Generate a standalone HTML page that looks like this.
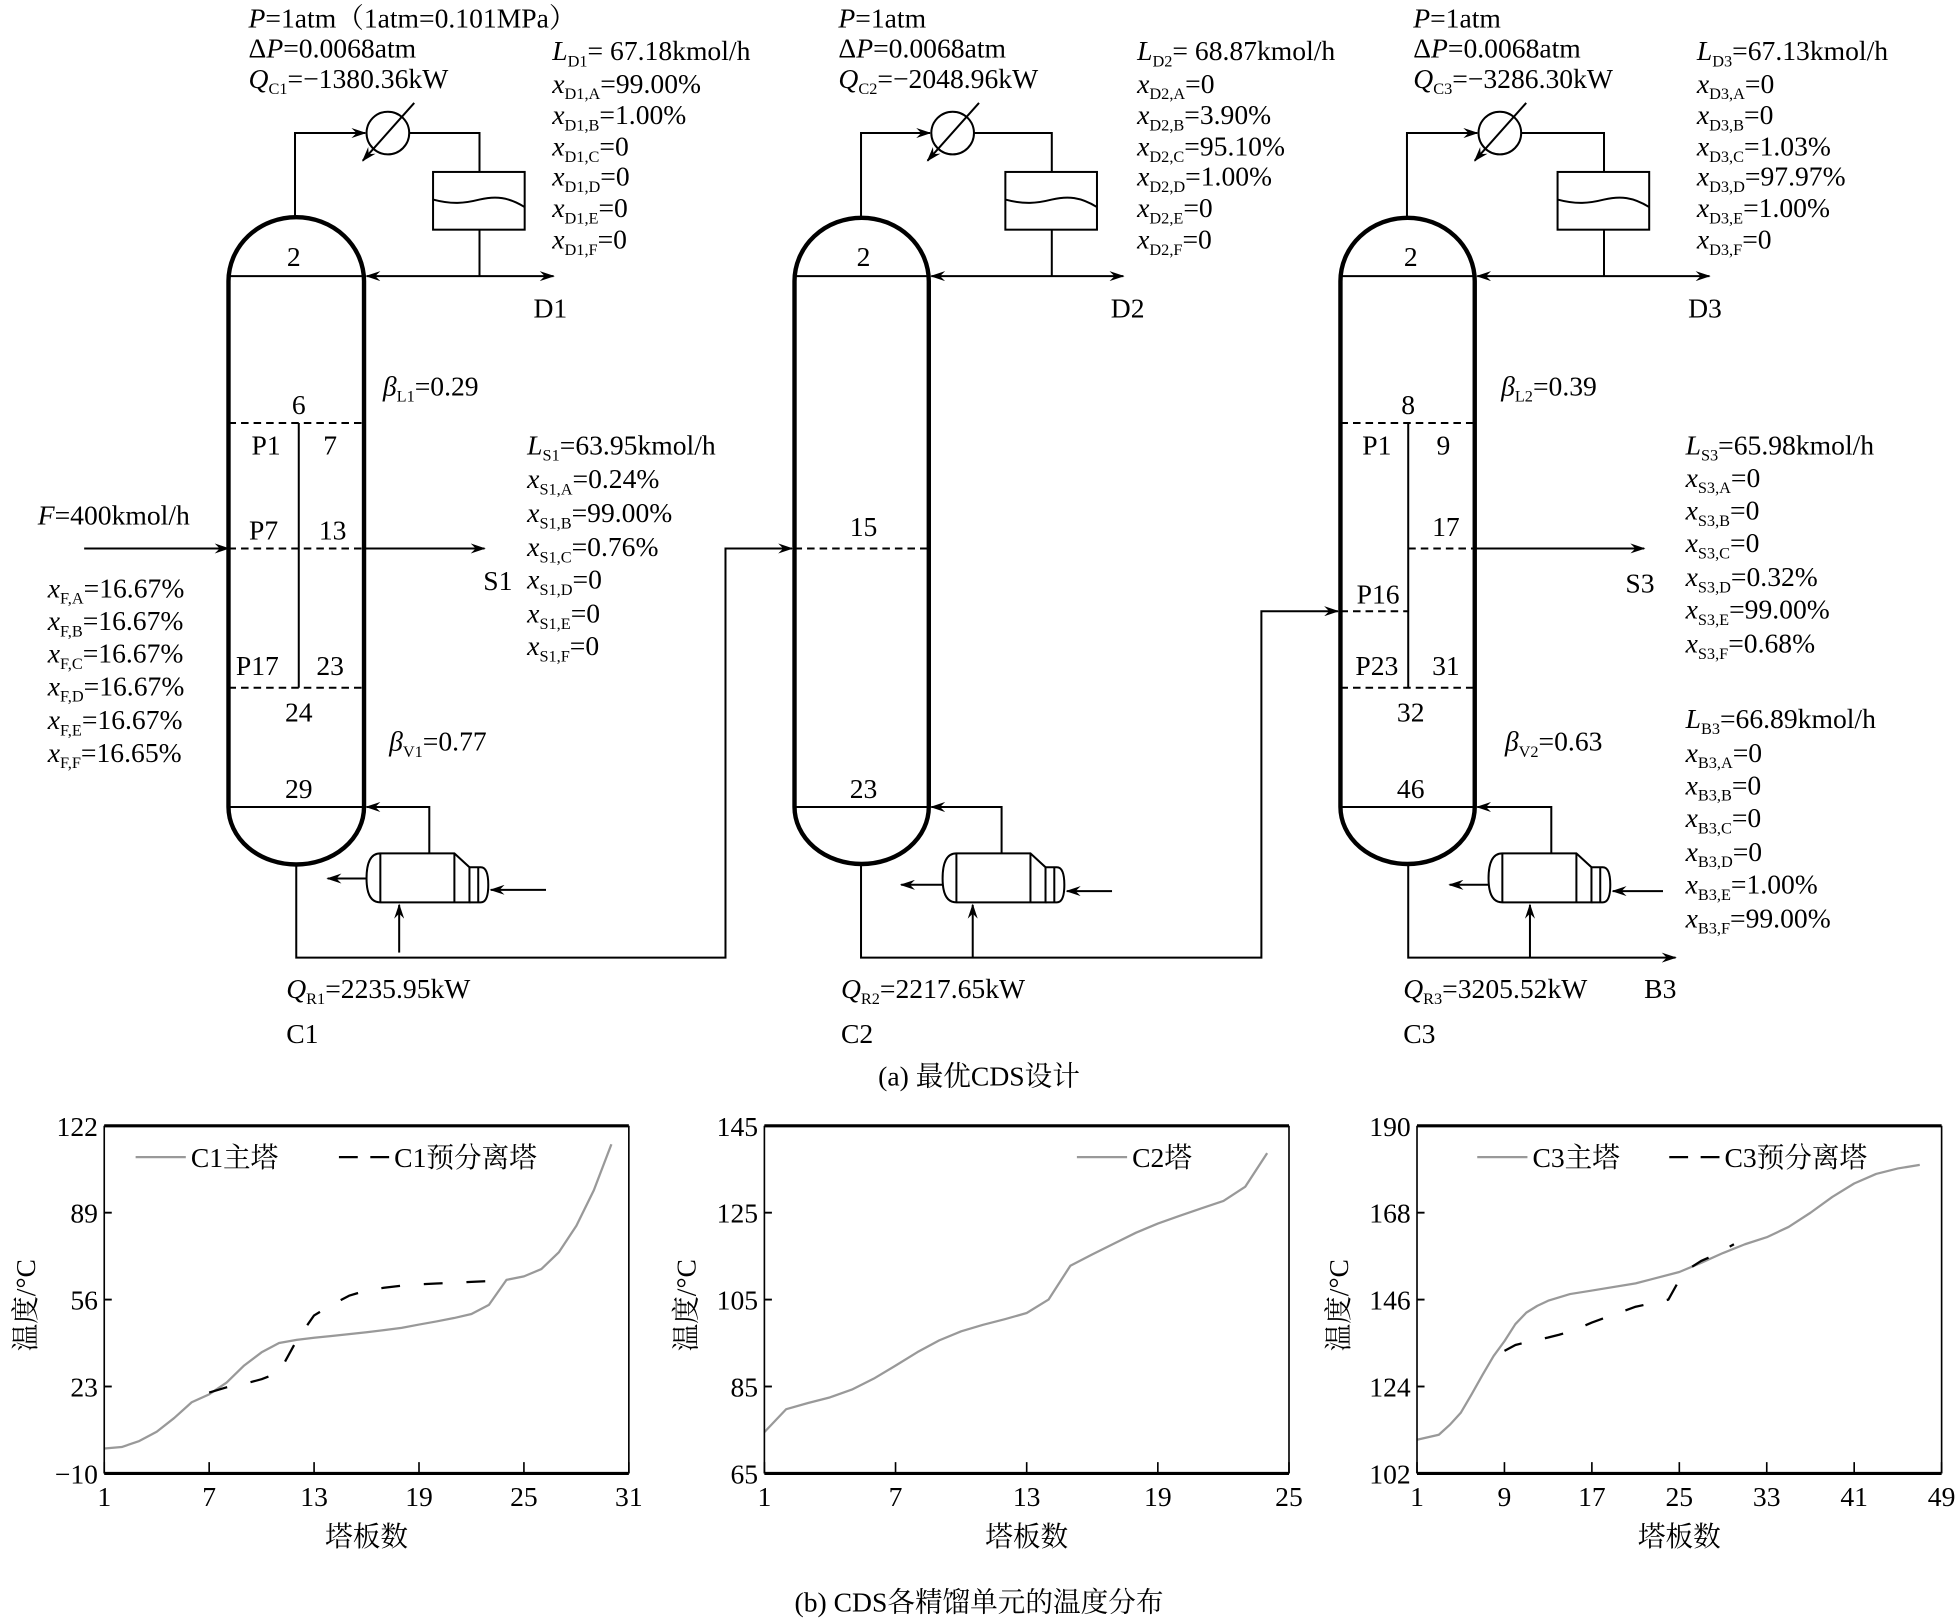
<!DOCTYPE html>
<html><head><meta charset="utf-8"><style>
html,body{margin:0;padding:0;background:#fff}
svg{display:block}
text{font-family:"Liberation Serif","Noto Serif CJK SC","Noto Sans CJK SC",serif;font-size:22px;fill:#000}
.s{font-size:13px}
.i{font-style:italic}
.ln{stroke:#000;stroke-width:1.6;fill:none}
.col{stroke:#000;stroke-width:3.5;fill:none}
.dash{stroke:#000;stroke-width:1.6;stroke-dasharray:6 4;fill:none}
</style></head><body>
<svg id="root" width="1958" height="1619" viewBox="0 0 1560 1290" xmlns="http://www.w3.org/2000/svg">
<defs>
<marker id="ah" viewBox="0 0 12 8" refX="11" refY="4" markerWidth="12" markerHeight="8" markerUnits="userSpaceOnUse" orient="auto-start-reverse"><path d="M0,0 L12,4 L0,8 L4,4 Z" fill="#000"/></marker>
</defs>
<rect width="1560" height="1290" fill="#fff"/>

<g id="c1">
<path class="col" d="M182,643 L182,224 A53,50 0 0 1 290,224 L290,643 A53,45 0 0 1 182,643 Z"/>
<line class="ln" x1="182" y1="220" x2="290" y2="220"/>
<line class="ln" x1="182" y1="643" x2="290" y2="643"/>
<path class="ln" d="M235,174 L235,106 L291,106" marker-end="url(#ah)"/>
<circle class="ln" cx="309" cy="106" r="17"/>
<line class="ln" x1="330" y1="82" x2="289" y2="128" marker-end="url(#ah)"/>
<path class="ln" d="M326,106 L382,106 L382,137"/>
<rect class="ln" x="345" y="137" width="73" height="46"/>
<path class="ln" d="M345,159 C360,163 370,162 382,159 C395,156 405,157 418,165"/>
<line class="ln" x1="382" y1="183" x2="382" y2="220"/>
<line class="ln" x1="292" y1="220" x2="441" y2="220" marker-start="url(#ah)" marker-end="url(#ah)"/>
<g>
<path class="ln" d="M303,680 L362,680 L374,691 L374,719 L303,719 Q292,719 292,700 Q292,680 303,680 Z"/>
<line class="ln" x1="303" y1="680" x2="303" y2="719"/><line class="ln" x1="362" y1="680" x2="362" y2="719"/>
<path class="ln" d="M374,691 L383,691 Q389,691 389,705 Q389,719 383,719 L374,719"/>
<line class="ln" x1="381" y1="691" x2="381" y2="719"/>
<path class="ln" d="M342,680 L342,643 L292,643" marker-end="url(#ah)"/>
<line class="ln" x1="292" y1="700" x2="261" y2="700" marker-end="url(#ah)"/>
<line class="ln" x1="435" y1="709" x2="391" y2="709" marker-end="url(#ah)"/>
<line class="ln" x1="318" y1="759" x2="318" y2="721" marker-end="url(#ah)"/>
</g>
<path class="dash" d="M182,337 L290,337 M182,437 L290,437 M182,548 L290,548"/>
<line class="ln" x1="238" y1="337" x2="238" y2="548"/>
<line class="ln" x1="67" y1="437" x2="182" y2="437" marker-end="url(#ah)"/>
<line class="ln" x1="290" y1="437" x2="386" y2="437" marker-end="url(#ah)"/>
<path class="ln" d="M236,690 L236,763 L578,763 L578,437 L631,437" marker-end="url(#ah)"/>
<g text-anchor="middle">
<text x="234" y="212">2</text><text x="238" y="330">6</text><text x="212" y="362">P1</text><text x="263" y="362">7</text>
<text x="210" y="430">P7</text><text x="265" y="430">13</text><text x="205" y="538">P17</text><text x="263" y="538">23</text>
<text x="238" y="575">24</text><text x="238" y="636">29</text>
</g>
</g>

<g id="c2">
<path class="col" d="M633,643 L633,224 A53,50 0 0 1 740,224 L740,643 A53,45 0 0 1 633,643 Z"/>
<line class="ln" x1="633" y1="220" x2="740" y2="220"/>
<line class="ln" x1="633" y1="643" x2="740" y2="643"/>
<path class="ln" d="M686,174 L686,106 L741,106" marker-end="url(#ah)"/>
<circle class="ln" cx="759" cy="106" r="17"/>
<line class="ln" x1="780" y1="82" x2="739" y2="128" marker-end="url(#ah)"/>
<path class="ln" d="M776,106 L838,106 L838,137"/>
<rect class="ln" x="801" y="137" width="73" height="46"/>
<path class="ln" d="M801,159 C816,163 826,162 838,159 C851,156 861,157 874,165"/>
<line class="ln" x1="838" y1="183" x2="838" y2="220"/>
<line class="ln" x1="742" y1="220" x2="895" y2="220" marker-start="url(#ah)" marker-end="url(#ah)"/>
<g>
<path class="ln" d="M762,680 L821,680 L833,691 L833,719 L762,719 Q751,719 751,700 Q751,680 762,680 Z"/>
<line class="ln" x1="762" y1="680" x2="762" y2="719"/><line class="ln" x1="821" y1="680" x2="821" y2="719"/>
<path class="ln" d="M833,691 L842,691 Q848,691 848,705 Q848,719 842,719 L833,719"/>
<line class="ln" x1="840" y1="691" x2="840" y2="719"/>
<path class="ln" d="M798,680 L798,643 L742,643" marker-end="url(#ah)"/>
<line class="ln" x1="751" y1="705" x2="718" y2="705" marker-end="url(#ah)"/>
<line class="ln" x1="886" y1="710" x2="850" y2="710" marker-end="url(#ah)"/>
<line class="ln" x1="775" y1="763" x2="775" y2="721" marker-end="url(#ah)"/>
</g>
<line class="dash" x1="633" y1="437" x2="740" y2="437"/>
<path class="ln" d="M686,690 L686,763 L1005,763 L1005,487 L1066,487" marker-end="url(#ah)"/>
<g text-anchor="middle"><text x="688" y="212">2</text><text x="688" y="427">15</text><text x="688" y="636">23</text></g>
</g>

<g id="c3">
<path class="col" d="M1068,643 L1068,224 A53,50 0 0 1 1175,224 L1175,643 A53,45 0 0 1 1068,643 Z"/>
<line class="ln" x1="1068" y1="220" x2="1175" y2="220"/>
<line class="ln" x1="1068" y1="643" x2="1175" y2="643"/>
<path class="ln" d="M1121,174 L1121,106 L1177,106" marker-end="url(#ah)"/>
<circle class="ln" cx="1195" cy="106" r="17"/>
<line class="ln" x1="1216" y1="82" x2="1175" y2="128" marker-end="url(#ah)"/>
<path class="ln" d="M1212,106 L1278,106 L1278,137"/>
<rect class="ln" x="1241" y="137" width="73" height="46"/>
<path class="ln" d="M1241,159 C1256,163 1266,162 1278,159 C1291,156 1301,157 1314,165"/>
<line class="ln" x1="1278" y1="183" x2="1278" y2="220"/>
<line class="ln" x1="1177" y1="220" x2="1362" y2="220" marker-start="url(#ah)" marker-end="url(#ah)"/>
<g>
<path class="ln" d="M1197,680 L1256,680 L1268,691 L1268,719 L1197,719 Q1186,719 1186,700 Q1186,680 1197,680 Z"/>
<line class="ln" x1="1197" y1="680" x2="1197" y2="719"/><line class="ln" x1="1256" y1="680" x2="1256" y2="719"/>
<path class="ln" d="M1268,691 L1277,691 Q1283,691 1283,705 Q1283,719 1277,719 L1268,719"/>
<line class="ln" x1="1275" y1="691" x2="1275" y2="719"/>
<path class="ln" d="M1236,680 L1236,643 L1177,643" marker-end="url(#ah)"/>
<line class="ln" x1="1186" y1="705" x2="1155" y2="705" marker-end="url(#ah)"/>
<line class="ln" x1="1325" y1="710" x2="1285" y2="710" marker-end="url(#ah)"/>
<line class="ln" x1="1219" y1="763" x2="1219" y2="721" marker-end="url(#ah)"/>
</g>
<path class="dash" d="M1068,337 L1175,337 M1122,437 L1175,437 M1068,487 L1122,487 M1068,548 L1175,548"/>
<line class="ln" x1="1122" y1="337" x2="1122" y2="548"/>
<line class="ln" x1="1175" y1="437" x2="1310" y2="437" marker-end="url(#ah)"/>
<path class="ln" d="M1122,690 L1122,763 L1335,763" marker-end="url(#ah)"/>
<g text-anchor="middle">
<text x="1124" y="212">2</text><text x="1122" y="330">8</text><text x="1097" y="362">P1</text><text x="1150" y="362">9</text>
<text x="1152" y="427">17</text><text x="1098" y="481">P16</text><text x="1097" y="538">P23</text><text x="1152" y="538">31</text>
<text x="1124" y="575">32</text><text x="1124" y="636">46</text>
</g>
</g>

<g>
<text x="198" y="22"><tspan class="i">P</tspan>=1atm（1atm=0.101MPa）</text>
<text x="198" y="46">Δ<tspan class="i">P</tspan>=0.0068atm</text>
<text x="198" y="70"><tspan class="i">Q</tspan><tspan class="s" dy="5">C1</tspan><tspan dy="-5">=−1380.36kW</tspan></text>
<text x="440" y="48"><tspan class="i">L</tspan><tspan class="s" dy="5">D1</tspan><tspan dy="-5">= 67.18kmol/h</tspan></text>
<text x="440" y="74"><tspan class="i">x</tspan><tspan class="s" dy="5">D1,A</tspan><tspan dy="-5">=99.00%</tspan></text>
<text x="440" y="99"><tspan class="i">x</tspan><tspan class="s" dy="5">D1,B</tspan><tspan dy="-5">=1.00%</tspan></text>
<text x="440" y="124"><tspan class="i">x</tspan><tspan class="s" dy="5">D1,C</tspan><tspan dy="-5">=0</tspan></text>
<text x="440" y="148"><tspan class="i">x</tspan><tspan class="s" dy="5">D1,D</tspan><tspan dy="-5">=0</tspan></text>
<text x="440" y="173"><tspan class="i">x</tspan><tspan class="s" dy="5">D1,E</tspan><tspan dy="-5">=0</tspan></text>
<text x="440" y="198"><tspan class="i">x</tspan><tspan class="s" dy="5">D1,F</tspan><tspan dy="-5">=0</tspan></text>
<text x="425" y="253">D1</text>
<text x="305" y="315"><tspan class="i">β</tspan><tspan class="s" dy="5">L1</tspan><tspan dy="-5">=0.29</tspan></text>
<text x="310" y="598"><tspan class="i">β</tspan><tspan class="s" dy="5">V1</tspan><tspan dy="-5">=0.77</tspan></text>
<text x="30" y="418"><tspan class="i">F</tspan>=400kmol/h</text>
<text x="38" y="476"><tspan class="i">x</tspan><tspan class="s" dy="5">F,A</tspan><tspan dy="-5">=16.67%</tspan></text>
<text x="38" y="502"><tspan class="i">x</tspan><tspan class="s" dy="5">F,B</tspan><tspan dy="-5">=16.67%</tspan></text>
<text x="38" y="528"><tspan class="i">x</tspan><tspan class="s" dy="5">F,C</tspan><tspan dy="-5">=16.67%</tspan></text>
<text x="38" y="554"><tspan class="i">x</tspan><tspan class="s" dy="5">F,D</tspan><tspan dy="-5">=16.67%</tspan></text>
<text x="38" y="581"><tspan class="i">x</tspan><tspan class="s" dy="5">F,E</tspan><tspan dy="-5">=16.67%</tspan></text>
<text x="38" y="607"><tspan class="i">x</tspan><tspan class="s" dy="5">F,F</tspan><tspan dy="-5">=16.65%</tspan></text>
<text x="385" y="470">S1</text>
<text x="420" y="362"><tspan class="i">L</tspan><tspan class="s" dy="5">S1</tspan><tspan dy="-5">=63.95kmol/h</tspan></text>
<text x="420" y="389"><tspan class="i">x</tspan><tspan class="s" dy="5">S1,A</tspan><tspan dy="-5">=0.24%</tspan></text>
<text x="420" y="416"><tspan class="i">x</tspan><tspan class="s" dy="5">S1,B</tspan><tspan dy="-5">=99.00%</tspan></text>
<text x="420" y="443"><tspan class="i">x</tspan><tspan class="s" dy="5">S1,C</tspan><tspan dy="-5">=0.76%</tspan></text>
<text x="420" y="469"><tspan class="i">x</tspan><tspan class="s" dy="5">S1,D</tspan><tspan dy="-5">=0</tspan></text>
<text x="420" y="496"><tspan class="i">x</tspan><tspan class="s" dy="5">S1,E</tspan><tspan dy="-5">=0</tspan></text>
<text x="420" y="522"><tspan class="i">x</tspan><tspan class="s" dy="5">S1,F</tspan><tspan dy="-5">=0</tspan></text>
<text x="228" y="795"><tspan class="i">Q</tspan><tspan class="s" dy="5">R1</tspan><tspan dy="-5">=2235.95kW</tspan></text>
<text x="228" y="831">C1</text>

<text x="668" y="22"><tspan class="i">P</tspan>=1atm</text>
<text x="668" y="46">Δ<tspan class="i">P</tspan>=0.0068atm</text>
<text x="668" y="70"><tspan class="i">Q</tspan><tspan class="s" dy="5">C2</tspan><tspan dy="-5">=−2048.96kW</tspan></text>
<text x="906" y="48"><tspan class="i">L</tspan><tspan class="s" dy="5">D2</tspan><tspan dy="-5">= 68.87kmol/h</tspan></text>
<text x="906" y="74"><tspan class="i">x</tspan><tspan class="s" dy="5">D2,A</tspan><tspan dy="-5">=0</tspan></text>
<text x="906" y="99"><tspan class="i">x</tspan><tspan class="s" dy="5">D2,B</tspan><tspan dy="-5">=3.90%</tspan></text>
<text x="906" y="124"><tspan class="i">x</tspan><tspan class="s" dy="5">D2,C</tspan><tspan dy="-5">=95.10%</tspan></text>
<text x="906" y="148"><tspan class="i">x</tspan><tspan class="s" dy="5">D2,D</tspan><tspan dy="-5">=1.00%</tspan></text>
<text x="906" y="173"><tspan class="i">x</tspan><tspan class="s" dy="5">D2,E</tspan><tspan dy="-5">=0</tspan></text>
<text x="906" y="198"><tspan class="i">x</tspan><tspan class="s" dy="5">D2,F</tspan><tspan dy="-5">=0</tspan></text>
<text x="885" y="253">D2</text>
<text x="670" y="795"><tspan class="i">Q</tspan><tspan class="s" dy="5">R2</tspan><tspan dy="-5">=2217.65kW</tspan></text>
<text x="670" y="831">C2</text>

<text x="1126" y="22"><tspan class="i">P</tspan>=1atm</text>
<text x="1126" y="46">Δ<tspan class="i">P</tspan>=0.0068atm</text>
<text x="1126" y="70"><tspan class="i">Q</tspan><tspan class="s" dy="5">C3</tspan><tspan dy="-5">=−3286.30kW</tspan></text>
<text x="1352" y="48"><tspan class="i">L</tspan><tspan class="s" dy="5">D3</tspan><tspan dy="-5">=67.13kmol/h</tspan></text>
<text x="1352" y="74"><tspan class="i">x</tspan><tspan class="s" dy="5">D3,A</tspan><tspan dy="-5">=0</tspan></text>
<text x="1352" y="99"><tspan class="i">x</tspan><tspan class="s" dy="5">D3,B</tspan><tspan dy="-5">=0</tspan></text>
<text x="1352" y="124"><tspan class="i">x</tspan><tspan class="s" dy="5">D3,C</tspan><tspan dy="-5">=1.03%</tspan></text>
<text x="1352" y="148"><tspan class="i">x</tspan><tspan class="s" dy="5">D3,D</tspan><tspan dy="-5">=97.97%</tspan></text>
<text x="1352" y="173"><tspan class="i">x</tspan><tspan class="s" dy="5">D3,E</tspan><tspan dy="-5">=1.00%</tspan></text>
<text x="1352" y="198"><tspan class="i">x</tspan><tspan class="s" dy="5">D3,F</tspan><tspan dy="-5">=0</tspan></text>
<text x="1345" y="253">D3</text>
<text x="1196" y="315"><tspan class="i">β</tspan><tspan class="s" dy="5">L2</tspan><tspan dy="-5">=0.39</tspan></text>
<text x="1199" y="598"><tspan class="i">β</tspan><tspan class="s" dy="5">V2</tspan><tspan dy="-5">=0.63</tspan></text>
<text x="1295" y="472">S3</text>
<text x="1343" y="362"><tspan class="i">L</tspan><tspan class="s" dy="5">S3</tspan><tspan dy="-5">=65.98kmol/h</tspan></text>
<text x="1343" y="388"><tspan class="i">x</tspan><tspan class="s" dy="5">S3,A</tspan><tspan dy="-5">=0</tspan></text>
<text x="1343" y="414"><tspan class="i">x</tspan><tspan class="s" dy="5">S3,B</tspan><tspan dy="-5">=0</tspan></text>
<text x="1343" y="440"><tspan class="i">x</tspan><tspan class="s" dy="5">S3,C</tspan><tspan dy="-5">=0</tspan></text>
<text x="1343" y="467"><tspan class="i">x</tspan><tspan class="s" dy="5">S3,D</tspan><tspan dy="-5">=0.32%</tspan></text>
<text x="1343" y="493"><tspan class="i">x</tspan><tspan class="s" dy="5">S3,E</tspan><tspan dy="-5">=99.00%</tspan></text>
<text x="1343" y="520"><tspan class="i">x</tspan><tspan class="s" dy="5">S3,F</tspan><tspan dy="-5">=0.68%</tspan></text>
<text x="1343" y="580"><tspan class="i">L</tspan><tspan class="s" dy="5">B3</tspan><tspan dy="-5">=66.89kmol/h</tspan></text>
<text x="1343" y="607"><tspan class="i">x</tspan><tspan class="s" dy="5">B3,A</tspan><tspan dy="-5">=0</tspan></text>
<text x="1343" y="633"><tspan class="i">x</tspan><tspan class="s" dy="5">B3,B</tspan><tspan dy="-5">=0</tspan></text>
<text x="1343" y="659"><tspan class="i">x</tspan><tspan class="s" dy="5">B3,C</tspan><tspan dy="-5">=0</tspan></text>
<text x="1343" y="686"><tspan class="i">x</tspan><tspan class="s" dy="5">B3,D</tspan><tspan dy="-5">=0</tspan></text>
<text x="1343" y="712"><tspan class="i">x</tspan><tspan class="s" dy="5">B3,E</tspan><tspan dy="-5">=1.00%</tspan></text>
<text x="1343" y="739"><tspan class="i">x</tspan><tspan class="s" dy="5">B3,F</tspan><tspan dy="-5">=99.00%</tspan></text>
<text x="1118" y="795"><tspan class="i">Q</tspan><tspan class="s" dy="5">R3</tspan><tspan dy="-5">=3205.52kW</tspan></text>
<text x="1310" y="795">B3</text>
<text x="1118" y="831">C3</text>
<text x="780" y="865" text-anchor="middle">(a) 最优CDS设计</text>
<text x="780" y="1284" text-anchor="middle">(b) CDS各精馏单元的温度分布</text>
</g>

<g id="charts"></g>
</svg>
<script>
// ---- Chart data ----
const c1Stages = [1,2,3,4,5,6,7,8,9,10,11,12,13,14,15,16,17,18,19,20,21,22,23,24,25,26,27,28,29,30];
const c1Main = [-0.5,0,2.3,5.8,11,17,20,24.5,31,36,39.5,40.7,41.5,42.2,42.9,43.6,44.4,45.3,46.5,47.7,49,50.5,54,63.5,64.8,67.6,74,84,97.5,115];
const c1PreStages = [7,8,9,10,11,12,13,14,15,16,17,18,19,20,21,22,23];
const c1Pre = [20.7,22.7,24,25.8,28.3,40.5,50,54,57.5,59.5,60.5,61.3,61.8,62.1,62.4,62.7,63];
const c1YTicks = [-10,23,56,89,122];
const c1XTicks = [1,7,13,19,25,31];

const c2Stages = [1,2,3,4,5,6,7,8,9,10,11,12,13,14,15,16,17,18,19,20,21,22,23,24];
const c2Main = [74.5,79.8,81.2,82.5,84.3,86.8,89.8,92.9,95.6,97.7,99.2,100.5,101.9,105,112.8,115.4,117.9,120.4,122.5,124.3,126,127.7,131,138.7];
const c2YTicks = [65,85,105,125,145];
const c2XTicks = [1,7,13,19,25];

const c3Stages = [1,3,4,5,6,7,8,9,10,11,12,13,15,17,21,25,27,29,31,33,35,37,39,41,43,45,47];
const c3Main = [110.5,111.8,114.3,117.3,122,127,131.7,135.5,139.8,142.7,144.4,145.7,147.4,148.3,150.1,153,155.3,157.8,160,161.8,164.4,168,172,175.4,177.8,179.2,180.1];
const c3PreStages = [9,10,11,12,13,14,15,16,17,18,19,20,21,22,23,24,25,26,27,28,29,30];
const c3Pre = [133,134.5,135.2,135.8,136.4,137.1,137.9,139,140.2,141.2,142.2,143.2,144.2,144.8,145.3,146,151,154,155.8,157,158.5,160];
const c3YTicks = [102,124,146,168,190];
const c3XTicks = [1,9,17,25,33,41,49];

const NS = 'http://www.w3.org/2000/svg';
const root = document.getElementById('charts');
function mk(tag, attrs, parent){ const e=document.createElementNS(NS,tag); for(const k in attrs) e.setAttribute(k,attrs[k]); parent.appendChild(e); return e; }

function chart(name, x0, x1, xTicks, yTicks, series, legend){
  const y0=1174, yTop=897;
  const g=mk('g',{},root);
  
  
  const xmin=xTicks[0], xmax=xTicks[xTicks.length-1], ymin=yTicks[0], ymax=yTicks[yTicks.length-1];
  const sx=v=>x0+(v-xmin)/(xmax-xmin)*(x1-x0);
  const sy=v=>y0-(v-ymin)/(ymax-ymin)*(y0-yTop);
  series.forEach(s=>{
    const d=s.x.map((v,i)=>(i?'L':'M')+sx(v).toFixed(1)+','+sy(s.y[i]).toFixed(1)).join(' ');
    const p=mk('path',{d:d,fill:'none',stroke:s.color,'stroke-width':s.w,'stroke-dasharray':s.dash||'none','stroke-linejoin':'round'},g);
    
    
  });
  mk('line',{x1:x0,y1:yTop,x2:x0,y2:y0,stroke:'#000','stroke-width':1.3},g);
  mk('line',{x1:x1,y1:yTop,x2:x1,y2:y0,stroke:'#000','stroke-width':1.3},g);
  mk('line',{x1:x0,y1:yTop,x2:x1,y2:yTop,stroke:'#000','stroke-width':2.5},g);
  mk('line',{x1:x0,y1:y0,x2:x1,y2:y0,stroke:'#000','stroke-width':2.5},g);
  yTicks.forEach(v=>{
    mk('line',{x1:x0,y1:sy(v),x2:x0+6,y2:sy(v),stroke:'#000','stroke-width':1.5},g);
    const t=mk('text',{x:x0-5,y:sy(v)+8,'text-anchor':'end','font-size':24},g); t.textContent=(v<0?'−'+(-v):v);
    
    
  });
  xTicks.forEach(v=>{
    mk('line',{x1:sx(v),y1:y0,x2:sx(v),y2:y0-9,stroke:'#000','stroke-width':1.3},g);
    const t=mk('text',{x:sx(v),y:y0+26,'text-anchor':'middle','font-size':24},g); t.textContent=v;
    
    
  });
  const xl=mk('text',{x:(x0+x1)/2,y:1232,'text-anchor':'middle'},g); xl.textContent='塔板数';
  
  
  const yl=mk('text',{x:0,y:0,'text-anchor':'middle',transform:'translate('+(x0-55)+',1040) rotate(-90)'},g); yl.textContent='温度/°C';
  
  
  legend.forEach(l=>{
    const le=mk('g',{},g);
    
    
    mk('line',{x1:l.x,y1:922,x2:l.x+40,y2:922,stroke:l.color,'stroke-width':l.w,'stroke-dasharray':l.dash||'none'},le);
    const t=mk('text',{x:l.x+44,y:930},le); t.textContent=l.label;
  });
}
chart('chart-c1',83,501,c1XTicks,c1YTicks,[
  {name:'c1-main-line',x:c1Stages,y:c1Main,color:'#999',w:1.8},
  {name:'c1-pre-line',x:c1PreStages,y:c1Pre,color:'#000',w:1.8,dash:'15 19'}],
  [{x:108,label:'C1主塔',color:'#999',w:1.8},{x:270,label:'C1预分离塔',color:'#000',w:1.8,dash:'15 10'}]);
chart('chart-c2',609,1027,c2XTicks,c2YTicks,[
  {name:'c2-main-line',x:c2Stages,y:c2Main,color:'#999',w:1.8}],
  [{x:858,label:'C2塔',color:'#999',w:1.8}]);
chart('chart-c3',1129,1547,c3XTicks,c3YTicks,[
  {name:'c3-main-line',x:c3Stages,y:c3Main,color:'#999',w:1.8},
  {name:'c3-pre-line',x:c3PreStages,y:c3Pre,color:'#000',w:1.8,dash:'15 19'}],
  [{x:1177,label:'C3主塔',color:'#999',w:1.8},{x:1330,label:'C3预分离塔',color:'#000',w:1.8,dash:'15 10'}]);
</script>
</body></html>
